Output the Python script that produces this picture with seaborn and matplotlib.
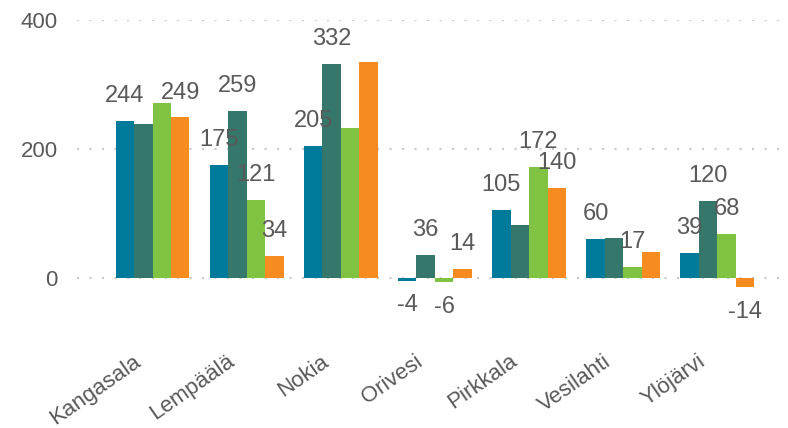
import matplotlib
matplotlib.use("Agg")
import matplotlib.pyplot as plt
import matplotlib.transforms as mtransforms
import seaborn as sns
import pandas as pd

municipalities = ["Kangasala", "Lempäälä", "Nokia", "Orivesi",
                  "Pirkkala", "Vesilahti", "Ylöjärvi"]
series = ["S1", "S2", "S3", "S4"]

s1_values = [244, 175, 205, -4, 105, 60, 39]
s2_values = [239, 259, 332, 36, 82, 62, 120]
s3_values = [271, 121, 232, -6, 172, 17, 68]
s4_values = [249, 34, 335, 14, 140, 40, -14]

# labels that were visible in the original (others hidden)
s1_labels = ["244", "175", "205", "-4", "105", "60", "39"]
s2_labels = ["", "259", "332", "36", "", "", "120"]
s3_labels = ["", "121", "", "-6", "172", "17", "68"]
s4_labels = ["249", "34", "", "14", "140", "", "-14"]

colors = ["#007A9A", "#35786B", "#80C242", "#F68B1F"]

all_values = [s1_values, s2_values, s3_values, s4_values]
all_labels = [s1_labels, s2_labels, s3_labels, s4_labels]

rows = []
for name, vals in zip(series, all_values):
    for m, v in zip(municipalities, vals):
        rows.append({"kunta": m, "sarja": name, "arvo": v})
df = pd.DataFrame(rows)

sns.set_style("white")
plt.rcParams["font.family"] = ["Liberation Sans", "DejaVu Sans"]

fig = plt.figure(figsize=(7.88, 4.28), dpi=100)
ax = fig.add_axes([0.098, 0.2, 0.902, 0.753])

sns.barplot(
    data=df,
    x="kunta",
    y="arvo",
    hue="sarja",
    palette=colors,
    width=0.785,
    saturation=1,
    linewidth=0,
    legend=False,
    ax=ax
)

for container, labels in zip(ax.containers, all_labels):
    ax.bar_label(container, labels=labels, padding=10,
                 fontsize=17, color="#595959")

ax.set_ylim(-100, 400)
ax.set_xlim(-0.8, 6.75)
ax.set_yticks([0, 200, 400])
ax.yaxis.grid(True, color="#c8c8c8", linestyle=(0, (1, 5)), linewidth=1.5)
ax.set_axisbelow(True)
sns.despine(ax=ax, left=True, bottom=True)

ax.set_xlabel("")
ax.set_ylabel("")
ax.tick_params(axis="y", length=0, pad=14, labelsize=16, labelcolor="#595959")
ax.tick_params(axis="x", length=0, pad=6, labelsize=16, labelcolor="#595959")
shift = mtransforms.ScaledTranslation(-20 / 100, 0, fig.dpi_scale_trans)
for lbl in ax.get_xticklabels():
    lbl.set_rotation(35)
    lbl.set_ha("right")
    lbl.set_rotation_mode("anchor")
    lbl.set_transform(lbl.get_transform() + shift)

fig.savefig("out.png", dpi=100)
